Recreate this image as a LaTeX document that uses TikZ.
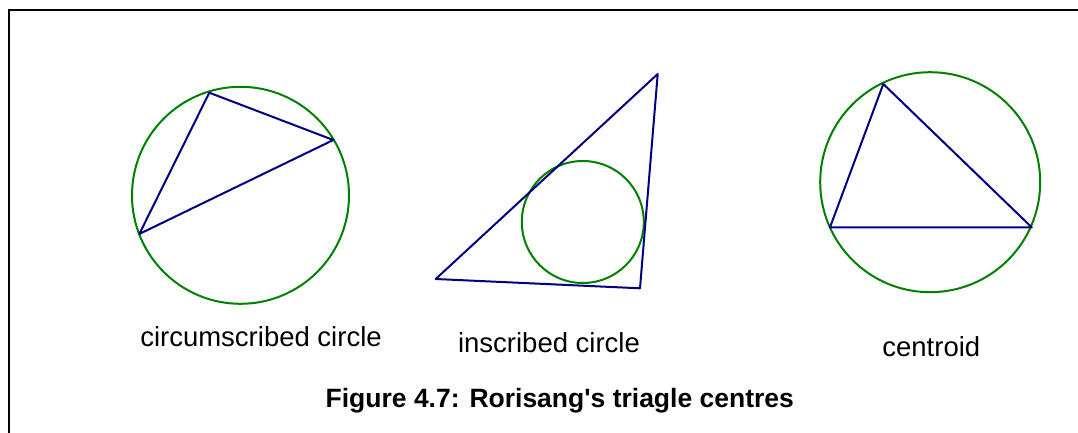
\documentclass[tikz,border=0pt]{standalone}
\usepackage{fontspec}
\setmainfont{Liberation Sans}
\begin{document}
\begin{tikzpicture}[x=1pt,y=-1pt,
  frame/.style={draw=black,line width=2.2pt},
  tri/.style={draw=navyblue,line width=2pt,line join=round},
  circ/.style={draw=darkgreen,line width=2pt},
  lab/.style={anchor=base,inner sep=0pt,font=\fontsize{27.5}{32}\selectfont},
  title/.style={anchor=base,inner sep=0pt,font=\fontsize{26.5}{32}\selectfont\bfseries}]
\definecolor{navyblue}{RGB}{0,0,128}
\definecolor{darkgreen}{RGB}{0,128,0}
\useasboundingbox (0,0) rectangle (1078,433);
% frame
\draw[frame] (9,433) -- (9,10) -- (1078,10);
% circumscribed
\draw[circ] (240.5,195.3) circle[radius=108.5];
\coordinate (a1) at (209.3,92.7);
\coordinate (b1) at (333.3,140);
\coordinate (c1) at (139.3,234);
\draw[tri] (a1) -- (b1) -- (c1) -- cycle;
% inscribed
\coordinate (a2) at (657.7,74);
\coordinate (b2) at (640,288.3);
\coordinate (c2) at (435.7,279);
\draw[circ] (582.8,222) circle[radius=61];
\draw[tri] (a2) -- (b2) -- (c2) -- cycle;
% centroid
\draw[circ] (930.2,182.2) circle[radius=110];
\coordinate (a3) at (883.3,84);
\coordinate (b3) at (1031.7,227.3);
\coordinate (c3) at (830,227.3);
\draw[tri] (a3) -- (b3) -- (c3) -- cycle;
% labels
\node[lab] (l1) at (261,346.5) {circumscribed circle};
\node[lab] (l2) at (549,352.3) {inscribed circle};
\node[lab] (l3) at (931.3,356.7) {centroid};
\node[title] (t) at (559.8,407.7) {Figure 4.7: Rorisang\textquotesingle s triagle centres};
\end{tikzpicture}
\end{document}
